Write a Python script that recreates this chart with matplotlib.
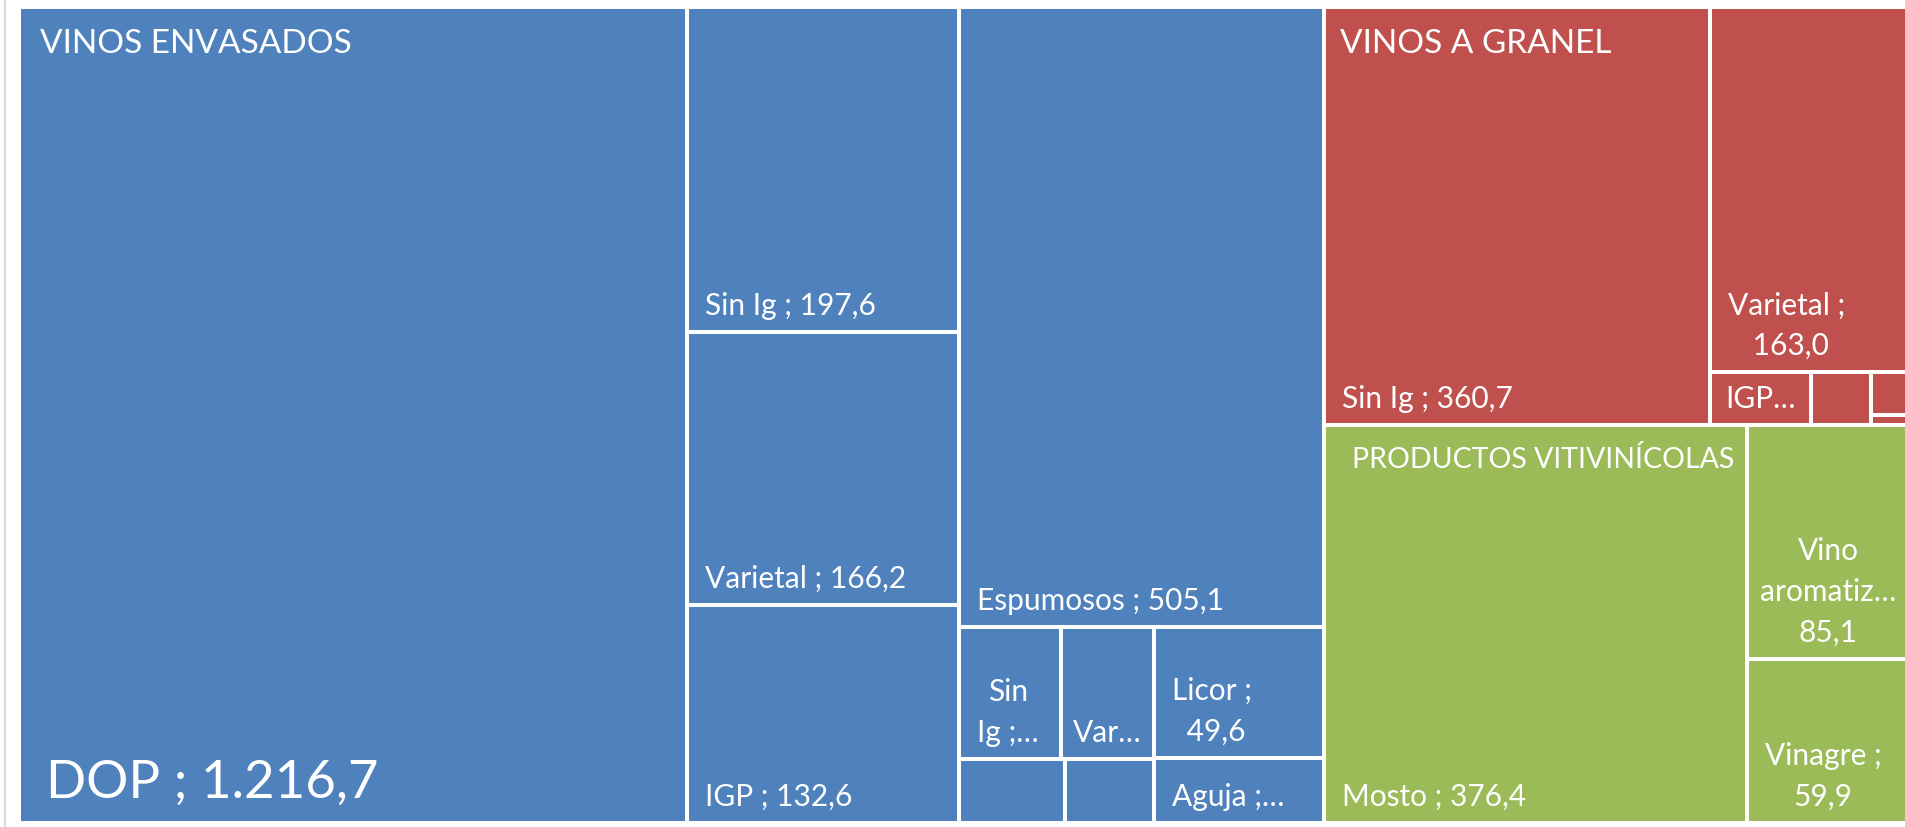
import matplotlib
matplotlib.use("Agg")
import matplotlib.pyplot as plt
from matplotlib.patches import Rectangle
from matplotlib.lines import Line2D

plt.rcParams['font.family'] = ['Lato', 'DejaVu Sans']

# ---- data ----
groups = ["VINOS ENVASADOS", "VINOS A GRANEL", "PRODUCTOS VITIVINÍCOLAS"]
group_colors = ["#4F81BD", "#C0504D", "#9BBB59"]

envasados_vals = [1216.7, 197.6, 166.2, 132.6, 505.1, 30.0, 27.6, 15.2, 12.8, 49.6, 24.8]
envasados_labels = ["DOP ; 1.216,7", "Sin Ig ; 197,6", "Varietal ; 166,2", "IGP ; 132,6",
                    "Espumosos ; 505,1", "Sin\nIg ;…", "Var…", "", "", "Licor ;\n 49,6", "Aguja ;…"]

granel_vals = [360.7, 163.0, 12.0, 7.1, 3.7, 0.9]
granel_labels = ["Sin Ig ; 360,7", "Varietal ;\n 163,0", "IGP…", "", "", ""]

productos_vals = [376.4, 85.1, 59.9]
productos_labels = ["Mosto ; 376,4", "Vino\naromatiz…\n85,1", "Vinagre ;\n59,9"]

values = [envasados_vals, granel_vals, productos_vals]
labels = [envasados_labels, granel_labels, productos_labels]

# slice layout: ['h' | 'v', children...], leaves are (group, item)
B = lambda i: (0, i)
R = lambda i: (1, i)
G = lambda i: (2, i)
tree_env = ['h', B(0), ['v', B(1), B(2), B(3)],
            ['v', B(4), ['h', ['v', ['h', B(5), B(6)], ['h', B(7), B(8)]], ['v', B(9), B(10)]]]]
tree_gra = ['h', R(0), ['v', R(1), ['h', R(2), R(3), ['v', R(4), R(5)]]]]
tree_pro = ['h', G(0), ['v', G(1), G(2)]]
tree = ['h', tree_env, ['v', tree_gra, tree_pro]]


def size(node):
    if isinstance(node, tuple):
        return values[node[0]][node[1]]
    return sum(size(c) for c in node[1:])


def layout(node, x, y, w, h, out):
    if isinstance(node, tuple):
        out[node] = (x, y, w, h)
        return
    total = size(node)
    for c in node[1:]:
        f = size(c) / total
        if node[0] == 'h':
            layout(c, x, y, w * f, h, out)
            x += w * f
        else:
            layout(c, x, y, w, h * f, out)
            y += h * f


# ---- figure ----
FW, FH = 1905, 827
fig = plt.figure(figsize=(FW / 100, FH / 100), dpi=100)
X0, Y0, W, H = 19.3, 7.3, 1890.7, 815.7
ax = fig.add_axes([X0 / FW, 1 - (Y0 + H) / FH, W / FW, H / FH])
ax.set_xlim(0, W)
ax.set_ylim(H, 0)
ax.axis('off')

rects = {}
layout(tree, 0, 0, W, H, rects)

edge_lw = 4 * 72 / 100
for (g, i), (x, y, w, h) in rects.items():
    ax.add_patch(Rectangle((x, y), w, h, facecolor=group_colors[g],
                           edgecolor='white', lw=edge_lw, clip_on=False))

renderer = fig.canvas.get_renderer()
for (g, i), (x, y, w, h) in rects.items():
    txt = labels[g][i]
    if not txt:
        continue
    big = (g, i) == (0, 0)
    fs = 38 if big else 21.5
    padx, pady = (27, 25) if big else (18, 17)
    t = ax.text(x + padx, y + h - pady, txt, color='white', fontsize=fs,
                ha='left', va='baseline', multialignment='center', linespacing=1.55)
    tw = t.get_window_extent(renderer).width
    if tw + 2 * padx > w:
        t.set_x(x + w / 2)
        t.set_ha('center')

# group labels
group_pad = [21, 16, 28]
group_fs = [24, 24, 20.5]
for g, name in enumerate(groups):
    xs = [r[0] for k, r in rects.items() if k[0] == g]
    ys = [r[1] for k, r in rects.items() if k[0] == g]
    fs = group_fs[g]
    ax.text(min(xs) + group_pad[g], min(ys) + 22 + 0.72 * fs * 100 / 72, name, color='white',
            fontsize=fs, ha='left', va='baseline')

# chart area border (left edge visible)
fig.add_artist(Line2D([5 / FW, 5 / FW], [1, 1 - 826 / FH], color='#d9d9d9', lw=1.5))

fig.savefig("out.png", dpi=100)
